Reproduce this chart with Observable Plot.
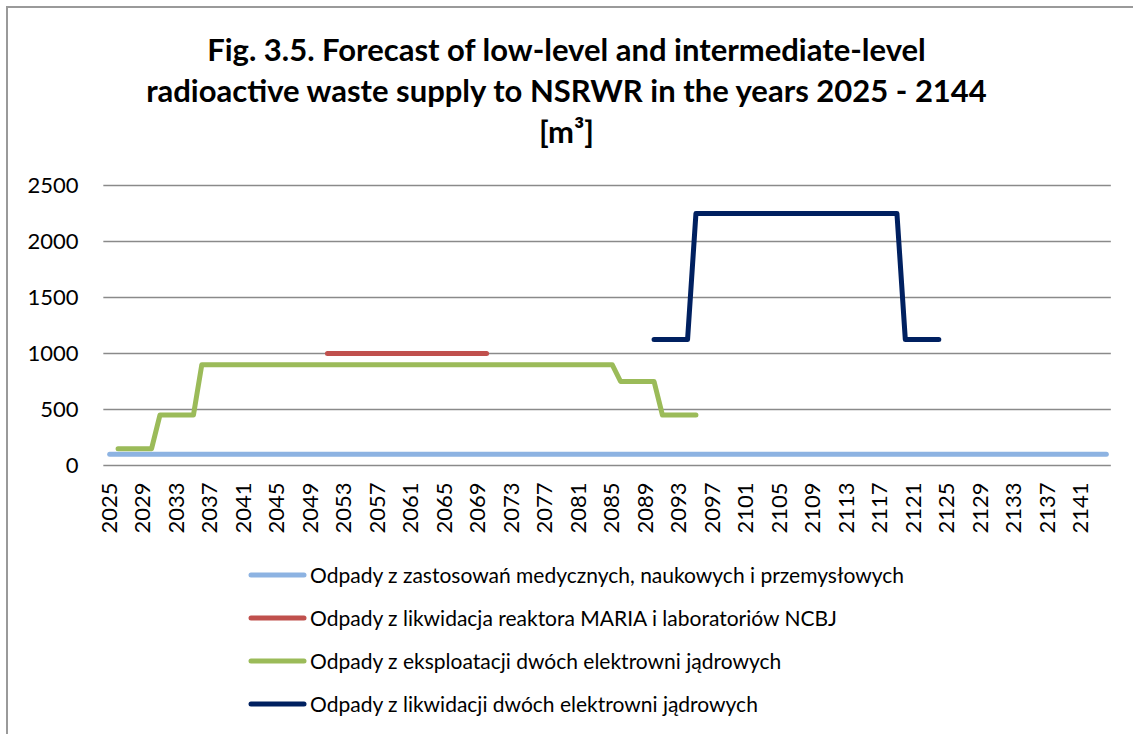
<!DOCTYPE html>
<html><head><meta charset="utf-8">
<script src="https://cdn.jsdelivr.net/npm/d3@7"></script>
<script src="https://cdn.jsdelivr.net/npm/@observablehq/plot@0.6"></script>
<style>
html,body{margin:0;padding:0;background:#fff;overflow:hidden;width:1133px;height:734px;}
body{position:relative;font-family:Lato,"Open Sans",sans-serif;color:#000;}
#frame{position:absolute;left:6px;top:6px;width:1140px;height:740px;border:2px solid #9a9a9a;box-sizing:border-box;}
#title{position:absolute;left:0;top:29px;width:1133px;text-align:center;font-weight:bold;font-size:31px;line-height:41px;}
#chart{position:absolute;left:0;top:0;}
#legend{position:absolute;left:248px;top:553px;}
.row{height:43px;display:flex;align-items:center;font-size:21px;white-space:nowrap;}
.row svg{margin-right:2px;}
</style>
</head><body>
<div id="frame"></div>
<div id="chart"></div>
<div id="title">Fig. 3.5. Forecast of low-level and intermediate-level<br>radioactive waste supply to NSRWR in the years 2025 - 2144<br>[m³]</div>
<div id="legend"></div>
<script>
// Categories (years 2025-2144)
const years = [
2025,2026,2027,2028,2029,2030,2031,2032,2033,2034,
2035,2036,2037,2038,2039,2040,2041,2042,2043,2044,
2045,2046,2047,2048,2049,2050,2051,2052,2053,2054,
2055,2056,2057,2058,2059,2060,2061,2062,2063,2064,
2065,2066,2067,2068,2069,2070,2071,2072,2073,2074,
2075,2076,2077,2078,2079,2080,2081,2082,2083,2084,
2085,2086,2087,2088,2089,2090,2091,2092,2093,2094,
2095,2096,2097,2098,2099,2100,2101,2102,2103,2104,
2105,2106,2107,2108,2109,2110,2111,2112,2113,2114,
2115,2116,2117,2118,2119,2120,2121,2122,2123,2124,
2125,2126,2127,2128,2129,2130,2131,2132,2133,2134,
2135,2136,2137,2138,2139,2140,2141,2142,2143,2144];

const seriesNames = [
  "Odpady z zastosowań medycznych, naukowych i przemysłowych",
  "Odpady z likwidacja reaktora MARIA i laboratoriów NCBJ",
  "Odpady z eksploatacji dwóch elektrowni jądrowych",
  "Odpady z likwidacji dwóch elektrowni jądrowych"
];
const seriesColors = ["#8db3e2", "#c0504d", "#9bbb59", "#002060"];

const medical = [
100,100,100,100,100,100,100,100,100,100,
100,100,100,100,100,100,100,100,100,100,
100,100,100,100,100,100,100,100,100,100,
100,100,100,100,100,100,100,100,100,100,
100,100,100,100,100,100,100,100,100,100,
100,100,100,100,100,100,100,100,100,100,
100,100,100,100,100,100,100,100,100,100,
100,100,100,100,100,100,100,100,100,100,
100,100,100,100,100,100,100,100,100,100,
100,100,100,100,100,100,100,100,100,100,
100,100,100,100,100,100,100,100,100,100,
100,100,100,100,100,100,100,100,100,100];

const maria = [
null,null,null,null,null,null,null,null,null,null,
null,null,null,null,null,null,null,null,null,null,
null,null,null,null,null,null,1000,1000,1000,1000,
1000,1000,1000,1000,1000,1000,1000,1000,1000,1000,
1000,1000,1000,1000,1000,1000,null,null,null,null,
null,null,null,null,null,null,null,null,null,null,
null,null,null,null,null,null,null,null,null,null,
null,null,null,null,null,null,null,null,null,null,
null,null,null,null,null,null,null,null,null,null,
null,null,null,null,null,null,null,null,null,null,
null,null,null,null,null,null,null,null,null,null,
null,null,null,null,null,null,null,null,null,null];

const exploitation = [
null,150,150,150,150,150,450,450,450,450,
450,900,900,900,900,900,900,900,900,900,
900,900,900,900,900,900,900,900,900,900,
900,900,900,900,900,900,900,900,900,900,
900,900,900,900,900,900,900,900,900,900,
900,900,900,900,900,900,900,900,900,900,
900,750,750,750,750,750,450,450,450,450,
450,null,null,null,null,null,null,null,null,null,
null,null,null,null,null,null,null,null,null,null,
null,null,null,null,null,null,null,null,null,null,
null,null,null,null,null,null,null,null,null,null,
null,null,null,null,null,null,null,null,null,null];

const decommission = [
null,null,null,null,null,null,null,null,null,null,
null,null,null,null,null,null,null,null,null,null,
null,null,null,null,null,null,null,null,null,null,
null,null,null,null,null,null,null,null,null,null,
null,null,null,null,null,null,null,null,null,null,
null,null,null,null,null,null,null,null,null,null,
null,null,null,null,null,1125,1125,1125,1125,1125,
2250,2250,2250,2250,2250,2250,2250,2250,2250,2250,
2250,2250,2250,2250,2250,2250,2250,2250,2250,2250,
2250,2250,2250,2250,2250,1125,1125,1125,1125,1125,
null,null,null,null,null,null,null,null,null,null,
null,null,null,null,null,null,null,null,null,null];

// Tick labels
const xTicks = [2025,2029,2033,2037,2041,2045,2049,2053,2057,2061,2065,2069,2073,2077,2081,2085,2089,2093,2097,2101,2105,2109,2113,2117,2121,2125,2129,2133,2137,2141];
const yTicks = [0,500,1000,1500,2000,2500];

const allSeries = [medical, maria, exploitation, decommission];

const lineStyle = {strokeWidth: 5, strokeLinecap: "round", strokeLinejoin: "round"};

const chart = Plot.plot({
  width: 1133, height: 540,
  marginLeft: 105, marginRight: 23, marginTop: 185, marginBottom: 75,
  style: {fontFamily: "Lato, 'Open Sans', sans-serif", color: "#000", background: "transparent", overflow: "visible"},
  x: {type: "linear", domain: [2024.5, 2144.5]},
  y: {domain: [0, 2500]},
  marks: [
    Plot.gridY(yTicks, {stroke: "#8a8a8a", strokeOpacity: 1, strokeWidth: 1.6, x1: 2024.3, x2: 2144.6}),
    Plot.axisY(yTicks, {tickSize: 0, tickPadding: 27, fontSize: 22, label: null, tickFormat: d => String(d)}),
    Plot.axisX(xTicks, {tickSize: 0, tickPadding: 17, tickRotate: -90, fontSize: 22, label: null, tickFormat: d => String(d)}),
    ...allSeries.map((vals, k) => Plot.line(years, {x: d => d, y: (d, i) => vals[i], stroke: seriesColors[k], ...lineStyle}))
  ]
});
document.getElementById("chart").appendChild(chart);

// Legend
const legend = document.getElementById("legend");
seriesNames.forEach((name, k) => {
  const row = document.createElement("div");
  row.className = "row";
  row.innerHTML = `<svg width="60" height="10"><line x1="3" y1="5" x2="56" y2="5" stroke="${seriesColors[k]}" stroke-width="5" stroke-linecap="round"/></svg><span>${name}</span>`;
  legend.appendChild(row);
});
</script>
</body></html>
